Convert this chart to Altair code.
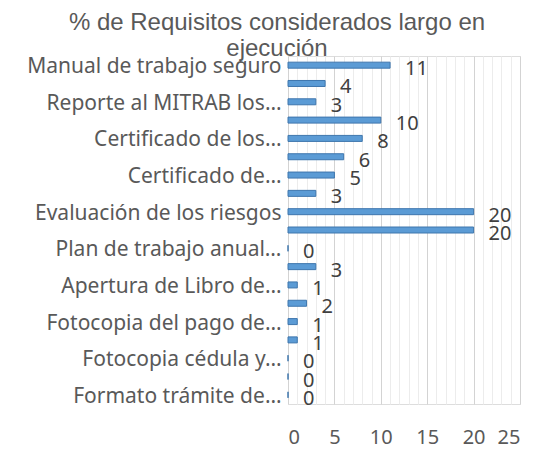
import altair as alt
import pandas as pd

values = [11, 4, 3, 10, 8, 6, 5, 3, 20, 20, 0, 3, 1, 2, 1, 1, 0, 0, 0]
labels = ["Manual de trabajo seguro", "", "Reporte al MITRAB los…", "",
          "Certificado de los…", "", "Certificado de…", "",
          "Evaluación de los riesgos", "", "Plan de trabajo anual…", "",
          "Apertura de Libro de…", "", "Fotocopia del pago de…", "",
          "Fotocopia cédula y…", "", "Formato trámite de…"]
x_ticks = list(range(0, 26))

df = pd.DataFrame({"idx": list(range(len(values))), "value": values})

label_js = "[" + ",".join("'" + l + "'" for l in labels) + "][datum.value]"

y_enc = alt.Y("idx:O", sort="ascending",
              scale=alt.Scale(paddingInner=0.6, paddingOuter=0.3),
              axis=alt.Axis(title=None, domain=False, ticks=False,
                            labelExpr=label_js, labelFontSize=21,
                            labelColor="#595959", labelFont="Noto Sans",
                            labelPadding=7, labelLimit=300,
                            labelOffset=2, labelOverlap=False))
x_enc = alt.X("value:Q", scale=alt.Scale(domain=[0, 25], nice=False),
              axis=alt.Axis(title=None, domain=False, ticks=False,
                            values=x_ticks,
                            labelExpr="datum.value % 5 == 0 ? datum.label : ''",
                            labelOverlap=False,
                            labelFontSize=20, labelColor="#595959",
                            labelFont="Noto Sans", labelPadding=23,
                            grid=True,
                            gridColor={"condition": {"test": "datum.value % 5 === 0",
                                                     "value": "#D3D3D3"},
                                       "value": "#ECECEC"},
                            gridWidth=1))

base = alt.Chart(df)
bars = base.mark_bar(size=6, color="#5B9BD5", stroke="#3E76AD",
                     strokeWidth=1).encode(x=x_enc, y=y_enc)
text = base.mark_text(align="left", dx=15, dy=4, fontSize=20,
                      color="#404040", font="Noto Sans").encode(
    x=x_enc, y=y_enc, text=alt.Text("value:Q"))

chart = (bars + text).properties(
    width=232, height=348,
    title=alt.TitleParams(["% de Requisitos considerados largo en", "ejecución"],
                          fontSize=24, font="Liberation Sans",
                          fontWeight="normal", color="#595959",
                          anchor="middle", frame="group", dx=-127,
                          offset=-5, lineHeight=26),
    autosize=alt.AutoSizeParams(type="none"),
    padding={"left": 280, "top": 48, "right": 20, "bottom": 58},
).configure_view(stroke=None).configure(background="white")

chart.save("out.html", embed_options={"renderer": "svg", "actions": False})
